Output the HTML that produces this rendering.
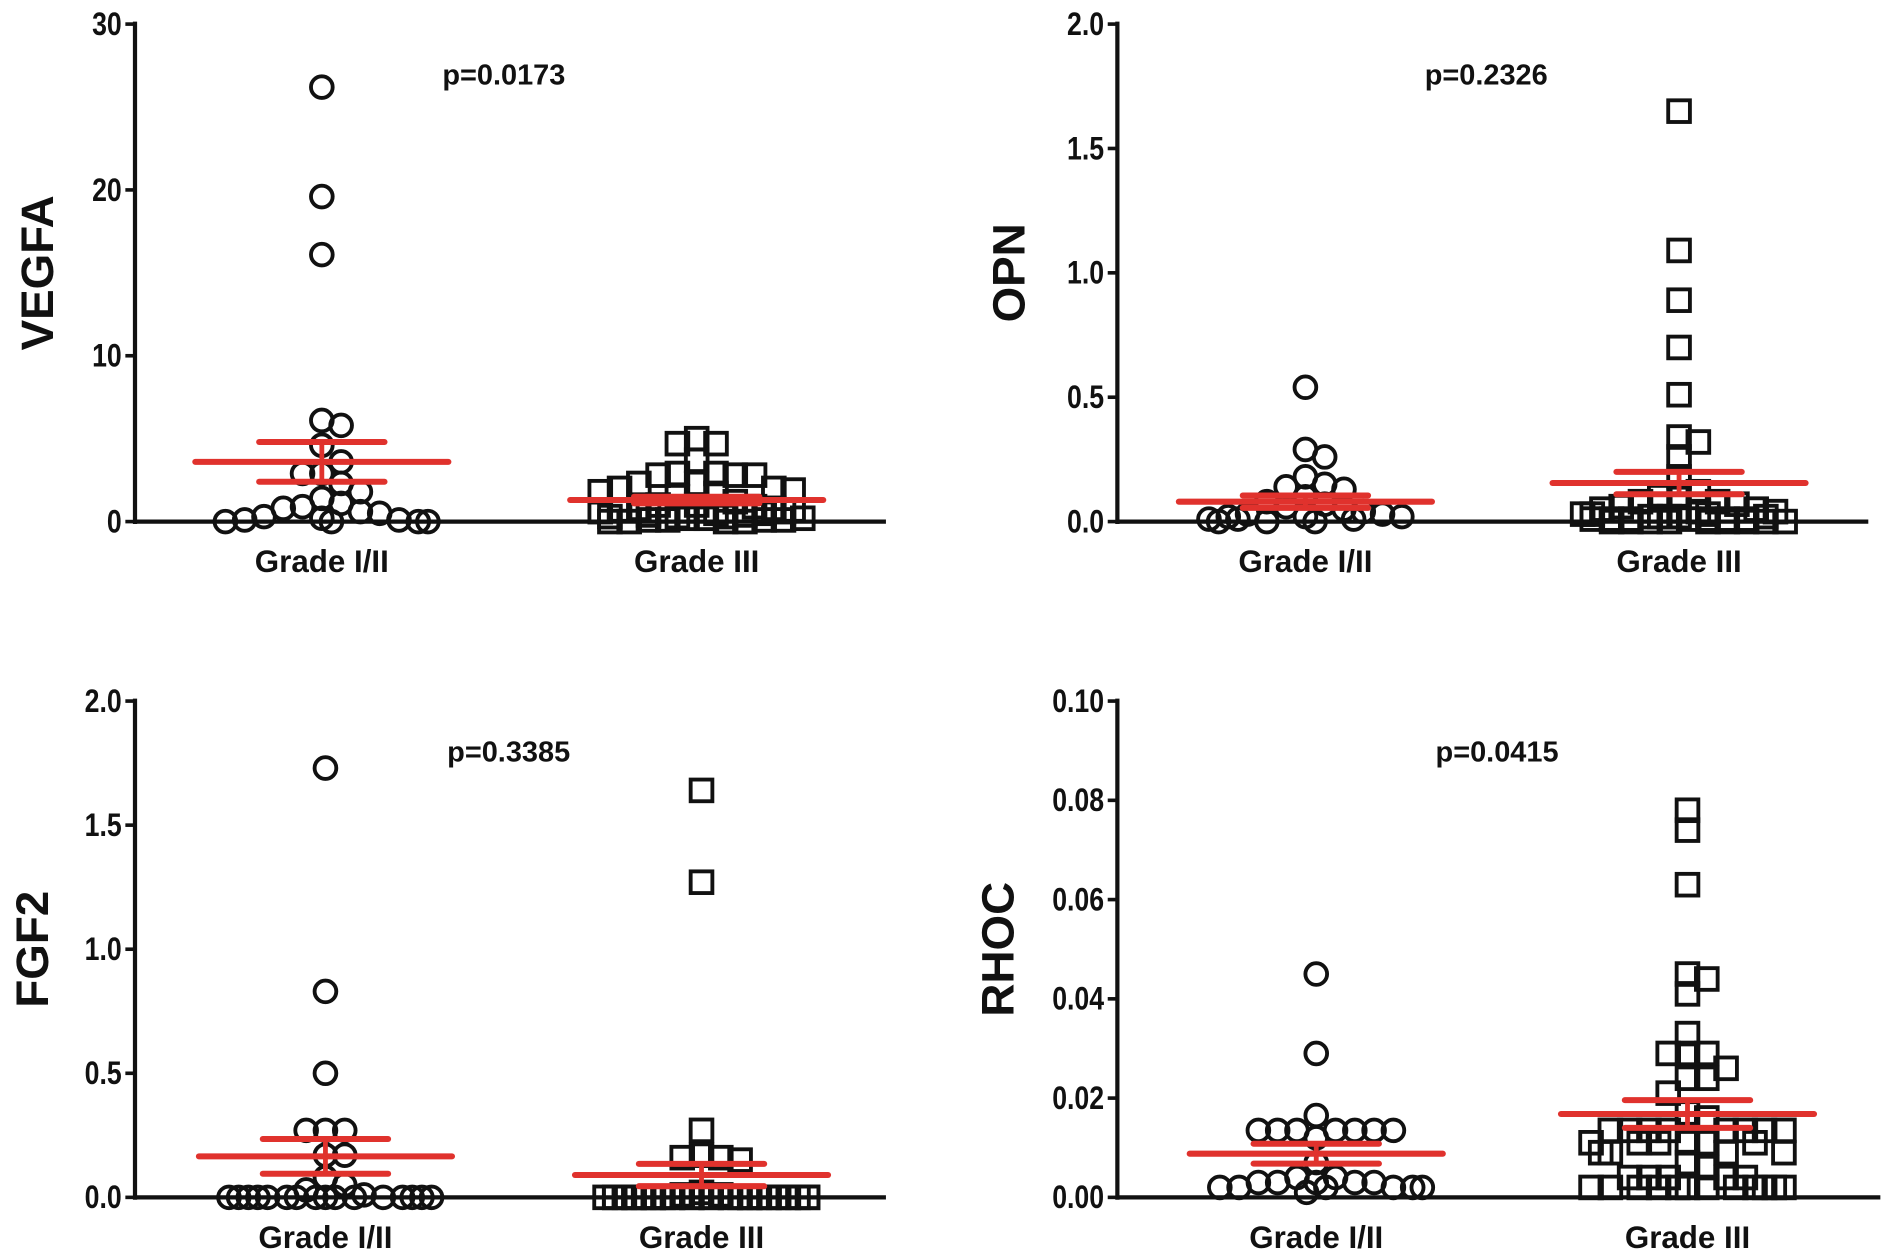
<!DOCTYPE html>
<html><head><meta charset="utf-8"><style>
html,body{margin:0;padding:0;background:#fff;width:1890px;height:1260px;overflow:hidden}
svg{display:block}
text{font-family:"Liberation Sans",Arial,sans-serif;font-weight:bold;fill:#111}
</style></head><body>
<svg id="fig" width="1890" height="1260" viewBox="0 0 1568 1046" preserveAspectRatio="none" xmlns="http://www.w3.org/2000/svg"></svg>
<script>
const groups = ["Grade I/II", "Grade III"];
const vegfaLow = [26.2,19.6,16.1,6.1,5.8,4.6,3.6,2.9,2.9,2.3,1.8,1.4,1.1,0.9,0.8,0.6,0.5,0.3,0.2,0.1,0.1,0,0,0,0];
const vegfaHigh = [5.0,4.7,4.7,3.7,2.9,2.9,2.8,2.8,2.8,2.3,2.3,2.0,2.0,1.9,1.8,1.7,1.5,1.2,1.0,1.0,0.9,0.8,0.8,0.7,0.7,0.6,0.6,0.5,0.5,0.4,0.4,0.3,0.3,0.3,0.2,0.2,0.2,0.1,0.1,0.1,0.1,0,0,0,0];
const opnLow = [0.54,0.29,0.26,0.18,0.15,0.14,0.13,0.1,0.08,0.07,0.06,0.05,0.04,0.03,0.03,0.02,0.02,0.02,0.01,0.01,0.01,0,0,0];
const opnHigh = [1.65,1.09,0.89,0.70,0.51,0.34,0.32,0.26,0.18,0.12,0.1,0.1,0.08,0.08,0.07,0.06,0.05,0.05,0.04,0.04,0.03,0.03,0.03,0.02,0.02,0.02,0.02,0.02,0.01,0.01,0.01,0.01,0.01,0.01,0.01,0,0,0,0,0,0,0,0,0];
const fgfLow = [1.73,0.83,0.5,0.27,0.27,0.27,0.17,0.17,0.08,0.05,0.03,0.01,0,0,0,0,0,0,0,0,0,0,0,0,0,0,0,0];
const fgfHigh = [1.64,1.27,0.27,0.17,0.16,0.16,0.15,0.02,0.01,0.01,0,0,0,0,0,0,0,0,0,0,0,0,0,0,0,0,0,0,0,0,0,0,0,0,0,0,0,0,0,0,0,0,0];
const rhocLow = [0.045,0.029,0.0165,0.0135,0.0135,0.0135,0.0135,0.0135,0.0135,0.0135,0.012,0.007,0.004,0.004,0.003,0.003,0.003,0.003,0.003,0.002,0.002,0.002,0.002,0.002,0.002,0.001];
const rhocHigh = [0.078,0.074,0.063,0.045,0.044,0.041,0.033,0.029,0.029,0.029,0.026,0.024,0.024,0.021,0.017,0.016,0.0135,0.0135,0.0135,0.0135,0.0135,0.0135,0.0135,0.0135,0.011,0.011,0.011,0.011,0.011,0.011,0.009,0.009,0.009,0.009,0.007,0.006,0.004,0.004,0.004,0.004,0.004,0.002,0.002,0.002,0.002,0.002,0.002,0.002,0.002,0.002,0.002,0.002,0.002];
const vegfaMean = [3.6, 1.3], vegfaSem = [1.2, 0.2];
const opnMean = [0.08, 0.155], opnSem = [0.025, 0.045];
const fgfMean = [0.165, 0.09], fgfSem = [0.07, 0.045];
const rhocMean = [0.0088, 0.0168], rhocSem = [0.002, 0.0028];
const vegfaTicks = [0,10,20,30];
const opnTicks = [0.0,0.5,1.0,1.5,2.0];
const fgfTicks = [0.0,0.5,1.0,1.5,2.0];
const rhocTicks = [0.00,0.02,0.04,0.06,0.08,0.10];
const pvals = ["p=0.0173","p=0.2326","p=0.3385","p=0.0415"];

const NS="http://www.w3.org/2000/svg";
const svg=document.getElementById('fig');
function mk(tag,attrs,parent){const e=document.createElementNS(NS,tag);for(const k in attrs)e.setAttribute(k,attrs[k]);(parent||svg).appendChild(e);return e;}

function panel(cfg){
  const g=mk('g',{});
  
  
  const y0=cfg.y0, y1=cfg.y1, ax=cfg.ax;
  const vmax=cfg.ticks[cfg.ticks.length-1];
  const sy=v=>y0-(v/vmax)*(y0-y1);
  const ya=mk('line',{x1:ax,y1:y1-2,x2:ax,y2:y0+2,stroke:'#111','stroke-width':3.5},g);
  
  
  const xa=mk('line',{x1:ax,y1:y0,x2:cfg.xend,y2:y0,stroke:'#111','stroke-width':3.5},g);
  
  
  cfg.ticks.forEach(t=>{
    const y=sy(t);
    mk('line',{x1:ax-8,y1:y,x2:ax,y2:y,stroke:'#111','stroke-width':3},g);
    const tx=mk('text',{x:0,y:0,'text-anchor':'end','font-size':27,transform:`translate(${ax-11},${y+9}) scale(0.82,1)`},g);
    tx.textContent=t.toFixed(cfg.dec);
    
    
  });
  const tl=mk('text',{x:0,y:0,'text-anchor':'middle','font-size':38,transform:`translate(${cfg.titleX},${(y0+y1)/2}) rotate(-90)`},g);
  tl.textContent=cfg.title;
  
  
  const pv=mk('text',{x:cfg.px,y:y1+50,'text-anchor':'middle','font-size':24},g);
  pv.textContent=cfg.p;
  
  
  [cfg.low,cfg.high].forEach((vals,gi)=>{
    const cx=cfg.cx[gi];
    const lab=mk('text',{x:cx,y:y0+42,'text-anchor':'middle','font-size':26},g);
    lab.textContent=groups[gi];
    
    
    const placed=[]; const step=16, size=19, maxOff=95;
    const sorted=vals.slice().sort((a,b)=>b-a);
    sorted.forEach(v=>{
      const y=sy(v); let best=0,found=false;
      for(let k=0;k<30;k++){
        const off=(k%2?1:-1)*Math.ceil(k/2)*step;
        if(Math.abs(off)>maxOff)break;
        if(!placed.some(p=>Math.abs(p.y-y)<size*0.85&&Math.abs(p.x-(cx+off))<step*0.95)){best=off;found=true;break;}
      }
      if(!found){best=((placed.length*5)%11-5)*step+step/2;}
      placed.push({x:cx+best,y:y});
      let m;
      if(gi===0){m=mk('circle',{cx:cx+best,cy:y,r:9,fill:'none',stroke:'#111','stroke-width':3.2},g);}
      else{m=mk('rect',{x:cx+best-9,y:y-9,width:18,height:18,fill:'none',stroke:'#111','stroke-width':3.2},g);}
      
      
    });
    const mean=cfg.mean[gi], sem=cfg.sem[gi];
    const ml=mk('line',{x1:cx-105,x2:cx+105,y1:sy(mean),y2:sy(mean),stroke:'#e0322d','stroke-width':5,'stroke-linecap':'round'},g);
    
    
    [mean+sem,mean-sem].forEach(s=>{
      const sl=mk('line',{x1:cx-52,x2:cx+52,y1:sy(s),y2:sy(s),stroke:'#e0322d','stroke-width':5,'stroke-linecap':'round'},g);
      
      
    });
    mk('line',{x1:cx,x2:cx,y1:sy(mean+sem),y2:sy(Math.max(0,mean-sem)),stroke:'#e0322d','stroke-width':4},g);
  });
}
panel({name:'vegfa',title:'VEGFA',ticks:vegfaTicks,dec:0,low:vegfaLow,high:vegfaHigh,mean:vegfaMean,sem:vegfaSem,ax:112,y0:433,y1:20,xend:735,cx:[267,578],titleX:44,px:418,p:pvals[0]});
panel({name:'opn',title:'OPN',ticks:opnTicks,dec:1,low:opnLow,high:opnHigh,mean:opnMean,sem:opnSem,ax:927,y0:433,y1:20,xend:1550,cx:[1083,1393],titleX:850,px:1233,p:pvals[1]});
panel({name:'fgf2',title:'FGF2',ticks:fgfTicks,dec:1,low:fgfLow,high:fgfHigh,mean:fgfMean,sem:fgfSem,ax:112,y0:994,y1:582,xend:735,cx:[270,582],titleX:40,px:422,p:pvals[2]});
panel({name:'rhoc',title:'RHOC',ticks:rhocTicks,dec:2,low:rhocLow,high:rhocHigh,mean:rhocMean,sem:rhocSem,ax:927,y0:994,y1:582,xend:1560,cx:[1092,1400],titleX:841,px:1242,p:pvals[3]});
</script>
</body></html>
